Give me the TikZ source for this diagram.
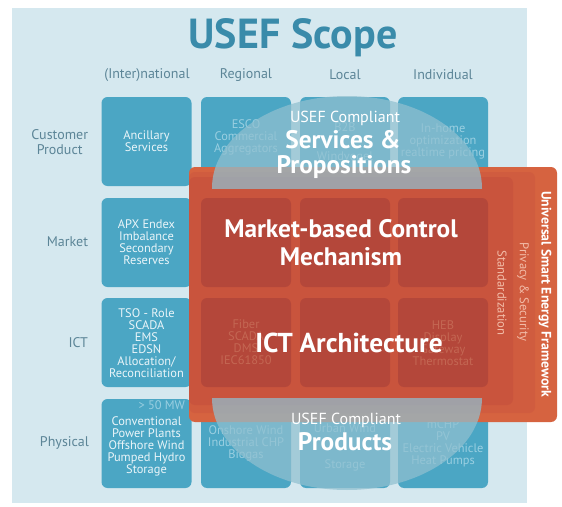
\documentclass[tikz,border=0pt]{standalone}
\usepackage{fontspec}
\setmainfont{PT Sans}
\definecolor{panel}{HTML}{D5E8EF}
\definecolor{boxblue}{HTML}{4BA6C4}
\definecolor{titlecol}{HTML}{3A8BAA}
\definecolor{labelcol}{HTML}{5C8597}
\definecolor{boxtext}{HTML}{EAF5F9}
\definecolor{fainttext}{HTML}{9ACFE1}
\definecolor{layA}{HTML}{D66340}
\definecolor{layB}{HTML}{D05C3F}
\definecolor{layC}{HTML}{C9543D}
\definecolor{darkbox}{HTML}{B4473A}
\definecolor{darktext}{HTML}{C46753}
\definecolor{ellcol}{HTML}{91C0D0}
\definecolor{laytext}{HTML}{F2BCA8}
\begin{document}
\begin{tikzpicture}[x=0.75pt,y=-0.75pt,
  every node/.style={inner sep=0pt,outer sep=0pt},
  box/.style={fill=boxblue,rounded corners=4.5pt,minimum width=67.5pt,minimum height=66.75pt},
  dbox/.style={fill=darkbox,rounded corners=4.5pt,minimum width=67.5pt,minimum height=66.75pt},
  btext/.style={align=center,font=\fontsize{9.3}{9}\selectfont,text=boxtext},
  ftext/.style={align=center,font=\fontsize{9.3}{9}\selectfont,text=fainttext},
  dtext/.style={align=center,font=\fontsize{9.3}{9}\selectfont,text=darktext},
  head/.style={font=\fontsize{10.5}{11}\selectfont,text=labelcol},
  rowlab/.style={font=\fontsize{10.5}{11.5}\selectfont,text=labelcol,align=center,anchor=east},
  bigtext/.style={font=\bfseries\fontsize{19}{19}\selectfont,text=white},
  comptext/.style={font=\fontsize{12}{12}\selectfont,text=white},
  layer/.style={rounded corners=4.5pt}
]
\useasboundingbox (0,0) rectangle (562,507);
\fill[white] (0,0) rectangle (562,507);
\fill[panel] (12,8) rectangle (527,503);

\node[font=\bfseries\fontsize{31.5}{31.5}\selectfont,text=titlecol] (title) at (293,38) {USEF Scope};

\node[head] (hInt) at (147,75) {(Inter)national};
\node[head] (hReg) at (246,75) {Regional};
\node[head] (hLoc) at (345,75) {Local};
\node[head] (hInd) at (443,75) {Individual};

\node[rowlab] (lCust) at (88,142) {Customer\\Product};
\node[rowlab] (lMark) at (88,242) {Market};
\node[rowlab] (lICT) at (88,343) {ICT};
\node[rowlab] (lPhys) at (89,443) {Physical};

% blue boxes
\foreach \c/\cx in {1/146.5,2/246,3/345,4/443}{
  \foreach \r/\ry in {1/141.5,2/242.5,3/342.5,4/443.5}{
    \node[box] (b\r\c) at (\cx,\ry) {};
  }
}
\node[btext] (t11) at (146.5,141) {Ancillary\\Services};
\node[ftext] (t12) at (246,137) {ESCO\\Commercial\\Aggregators};
\node[ftext] (t13a) at (345,127) {B2B};
\node[ftext] (t13b) at (345,157) {Windvogel};
\node[ftext] (t14) at (443,141) {In-home\\optimization\\realtime pricing};
\node[btext] (t21) at (146.5,242) {APX Endex\\Imbalance\\Secondary\\Reserves};
\node[btext] (t31) at (146.5,343) {TSO - Role\\SCADA\\EMS\\EDSN\\Allocation/\\Reconciliation};
\node[ftext,anchor=east] (t41a) at (185,405) {> 50 MW};
\node[btext] (t41) at (146.5,446) {Conventional\\Power Plants\\Offshore Wind\\Pumped Hydro\\Storage};
\node[ftext] (t42) at (246,443) {Onshore Wind\\Industrial CHP\\Biogas};
\node[ftext] (t43a) at (345,428) {Urban Wind};
\node[ftext] (t43b) at (345,465) {Storage};
\node[ftext] (t44) at (443,443) {mCHP\\PV\\Electric Vehicle\\Heat Pumps};

% orange framework layers
\fill[layA,layer] (189,167) rectangle (557,422);
\fill[layB,layer] (189,172) rectangle (535,413);
\fill[layC,layer] (189,177) rectangle (513,405);

% dark boxes
\foreach \c/\cx in {2/246,3/345,4/443}{
  \foreach \r/\ry in {2/242.5,3/342.5}{
    \node[dbox] (d\r\c) at (\cx,\ry) {};
  }
}
\node[dtext] (u32) at (246,342) {Fiber\\SCADA\\DMS\\IEC61850};
\node[dtext] (u34) at (443,343) {HEB\\Display\\Gateway\\Thermostat};

% ellipses
\begin{scope}
  \clip (150,60) rectangle (560,188);
  \fill[ellcol,opacity=0.72] (347,188) ellipse [x radius=135,y radius=92];
\end{scope}
\begin{scope}
  \clip (150,398) rectangle (560,500);
  \fill[ellcol,opacity=0.72] (347,398) ellipse [x radius=135,y radius=92];
\end{scope}

% big texts
\node[comptext] (c1) at (345,118) {USEF Compliant};
\node[bigtext] (serv) at (343,140) {Services \&};
\node[bigtext] (prop) at (344,167) {Propositions};
\node[bigtext] (mk1) at (341,229) {Market-based Control};
\node[bigtext] (mk2) at (341,257) {Mechanism};
\node[bigtext,font=\bfseries\fontsize{20.5}{20.5}\selectfont] (ict) at (349,343) {ICT Architecture};
\node[comptext] (c2) at (346,420) {USEF Compliant};
\node[bigtext] (prod) at (345,442) {Products};

\node[rotate=-90,font=\bfseries\fontsize{10.3}{10.3}\selectfont,text=white] (fw) at (545,294) {Universal Smart Energy Framework};
\node[rotate=-90,font=\fontsize{9.5}{9.5}\selectfont,text=laytext] (ps) at (523,292) {Privacy \& Security};
\node[rotate=-90,font=\fontsize{9.5}{9.5}\selectfont,text=laytext] (st) at (502,293) {Standardization};
\end{tikzpicture}
\end{document}
